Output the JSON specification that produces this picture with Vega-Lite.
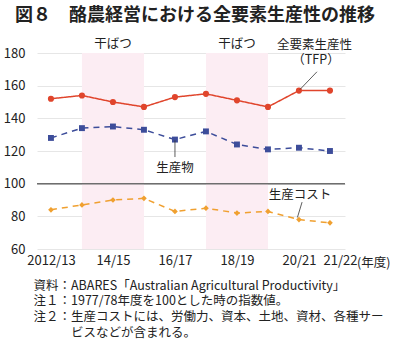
{
  "$schema": "https://vega.github.io/schema/vega-lite/v6.json",
  "autosize": {"type": "none"},
  "width": 308,
  "height": 196,
  "padding": {"left": 37, "top": 53, "right": 55, "bottom": 107},
  "background": "white",
  "config": {
    "font": "Noto Sans CJK JP",
    "view": {"stroke": null},
    "text": {"font": "Noto Sans CJK JP", "color": "#222"}
  },
  "title": {
    "text": "図８　酪農経営における全要素生産性の推移",
    "anchor": "start",
    "frame": "group",
    "fontSize": 18,
    "fontWeight": "bold",
    "color": "#222",
    "dx": -22,
    "offset": 13
  },
  "datasets": {
    "series": [
      {"i": 0, "series": "TFP", "value": 152},
      {"i": 1, "series": "TFP", "value": 154},
      {"i": 2, "series": "TFP", "value": 150},
      {"i": 3, "series": "TFP", "value": 147},
      {"i": 4, "series": "TFP", "value": 153},
      {"i": 5, "series": "TFP", "value": 155},
      {"i": 6, "series": "TFP", "value": 151},
      {"i": 7, "series": "TFP", "value": 147},
      {"i": 8, "series": "TFP", "value": 157},
      {"i": 9, "series": "TFP", "value": 157},
      {"i": 0, "series": "生産物", "value": 128},
      {"i": 1, "series": "生産物", "value": 134},
      {"i": 2, "series": "生産物", "value": 135},
      {"i": 3, "series": "生産物", "value": 133},
      {"i": 4, "series": "生産物", "value": 127},
      {"i": 5, "series": "生産物", "value": 132},
      {"i": 6, "series": "生産物", "value": 124},
      {"i": 7, "series": "生産物", "value": 121},
      {"i": 8, "series": "生産物", "value": 122},
      {"i": 9, "series": "生産物", "value": 120},
      {"i": 0, "series": "生産コスト", "value": 84},
      {"i": 1, "series": "生産コスト", "value": 87},
      {"i": 2, "series": "生産コスト", "value": 90},
      {"i": 3, "series": "生産コスト", "value": 91},
      {"i": 4, "series": "生産コスト", "value": 83},
      {"i": 5, "series": "生産コスト", "value": 85},
      {"i": 6, "series": "生産コスト", "value": 82},
      {"i": 7, "series": "生産コスト", "value": 83},
      {"i": 8, "series": "生産コスト", "value": 78},
      {"i": 9, "series": "生産コスト", "value": 76}
    ],
    "drought": [
      {"x1": 1, "x2": 3, "mid": 2, "label": "干ばつ"},
      {"x1": 5, "x2": 7, "mid": 6, "label": "干ばつ"}
    ],
    "notes": [
      {"x": 8.5, "y": 184.9, "text": "全要素生産性"},
      {"x": 8.55, "y": 175.8, "text": "（TFP）"},
      {"x": 4.0, "y": 109.5, "text": "生産物"},
      {"x": 8.03, "y": 92.9, "text": "生産コスト"}
    ],
    "unit": [
      {"x": 9.87, "y": 51.3, "text": "(年度)"}
    ],
    "leaders": [
      {"x": 8.03, "y": 157.6, "x2": 8.58, "y2": 168.5},
      {"x": 4.0, "y": 126.5, "x2": 4.0, "y2": 116.3},
      {"x": 7.95, "y": 79.3, "x2": 8.1, "y2": 88.7}
    ]
  },
  "layer": [
    {
      "data": {"name": "drought"},
      "mark": {"type": "rect", "color": "#fcedf3"},
      "encoding": {
        "x": {"field": "x1", "type": "quantitative"},
        "x2": {"field": "x2"}
      }
    },
    {
      "data": {"values": [{"y": 100}]},
      "mark": {"type": "rule", "color": "#6e6e6e", "strokeWidth": 1.5},
      "encoding": {
        "y": {"field": "y", "type": "quantitative"}
      }
    },
    {
      "data": {"name": "series"},
      "mark": {"type": "line", "strokeWidth": 1.5},
      "encoding": {
        "x": {"field": "i", "type": "quantitative", "scale": {"domain": [-0.45, 9.485], "nice": false, "zero": false},
          "axis": {
            "values": [0, 2, 4, 6, 8, 9],
            "tickCount": 10,
            "labelExpr": "['2012/13','13/14','14/15','15/16','16/17','17/18','18/19','19/20','20/21','21/22'][datum.value]",
            "labelOffset": {"condition": {"test": "datum.value == 9", "value": 10}, "value": 0},
            "grid": false, "domain": false, "ticks": false,
            "labelFontSize": 13, "labelColor": "#222", "labelPadding": 5,
            "labelOverlap": false,
            "labelFont": "Noto Sans CJK JP",
            "title": [
              "資料：ABARES「Australian Agricultural Productivity」",
              "注１：1977/78年度を100とした時の指数値。",
              "注２：生産コストには、労働力、資本、土地、資材、各種サー",
              "​　　　ビスなどが含まれる。"
            ],
            "titleFont": "Noto Sans CJK JP",
            "titleFontSize": 12.5,
            "titleFontWeight": "normal",
            "titleColor": "#222",
            "titleAlign": "left",
            "titleAnchor": "start",
            "titleBaseline": "top",
            "titleLineHeight": 15.8,
            "titleX": -4,
            "titleY": 30
          }
        },
        "y": {"field": "value", "type": "quantitative", "scale": {"domain": [60, 180], "nice": false, "zero": false},
          "axis": {
            "values": [60, 80, 100, 120, 140, 160, 180],
            "tickCount": 7,
            "grid": true, "gridColor": "#e6e6e6", "domain": false, "ticks": false,
            "labelFontSize": 13, "labelColor": "#222", "labelPadding": 12,
            "labelOverlap": false,
            "labelFont": "Noto Sans CJK JP", "title": null
          }
        },
        "color": {"field": "series", "type": "nominal",
          "scale": {"domain": ["TFP", "生産物", "生産コスト"], "range": ["#e0452c", "#3d4d9a", "#f0a030"]},
          "legend": null},
        "strokeDash": {"field": "series", "type": "nominal",
          "scale": {"domain": ["TFP", "生産物", "生産コスト"], "range": [[1, 0], [6, 5], [6, 5]]},
          "legend": null}
      }
    },
    {
      "data": {"name": "series"},
      "mark": {"type": "point", "filled": true, "opacity": 1},
      "encoding": {
        "x": {"field": "i", "type": "quantitative"},
        "y": {"field": "value", "type": "quantitative"},
        "color": {"field": "series", "type": "nominal", "legend": null},
        "shape": {"field": "series", "type": "nominal",
          "scale": {"domain": ["TFP", "生産物", "生産コスト"], "range": ["circle", "square", "diamond"]},
          "legend": null},
        "size": {"field": "series", "type": "nominal",
          "scale": {"domain": ["TFP", "生産物", "生産コスト"], "range": [38, 32, 45]},
          "legend": null}
      }
    },
    {
      "data": {"name": "drought"},
      "mark": {"type": "text", "fontSize": 12.5, "dy": -9, "baseline": "middle"},
      "encoding": {
        "x": {"field": "mid", "type": "quantitative"},
        "y": {"datum": 180, "type": "quantitative"},
        "text": {"field": "label"}
      }
    },
    {
      "data": {"name": "leaders"},
      "mark": {"type": "rule", "color": "#333", "strokeWidth": 0.8},
      "encoding": {
        "x": {"field": "x", "type": "quantitative"},
        "y": {"field": "y", "type": "quantitative"},
        "x2": {"field": "x2"},
        "y2": {"field": "y2"}
      }
    },
    {
      "data": {"name": "notes"},
      "mark": {"type": "text", "fontSize": 12.5, "baseline": "middle"},
      "encoding": {
        "x": {"field": "x", "type": "quantitative"},
        "y": {"field": "y", "type": "quantitative"},
        "text": {"field": "text"}
      }
    },
    {
      "data": {"name": "unit"},
      "mark": {"type": "text", "fontSize": 12.5, "baseline": "middle", "align": "left"},
      "encoding": {
        "x": {"field": "x", "type": "quantitative"},
        "y": {"field": "y", "type": "quantitative"},
        "text": {"field": "text"}
      }
    }
  ],
  "resolve": {"scale": {"size": "independent"}}
}
